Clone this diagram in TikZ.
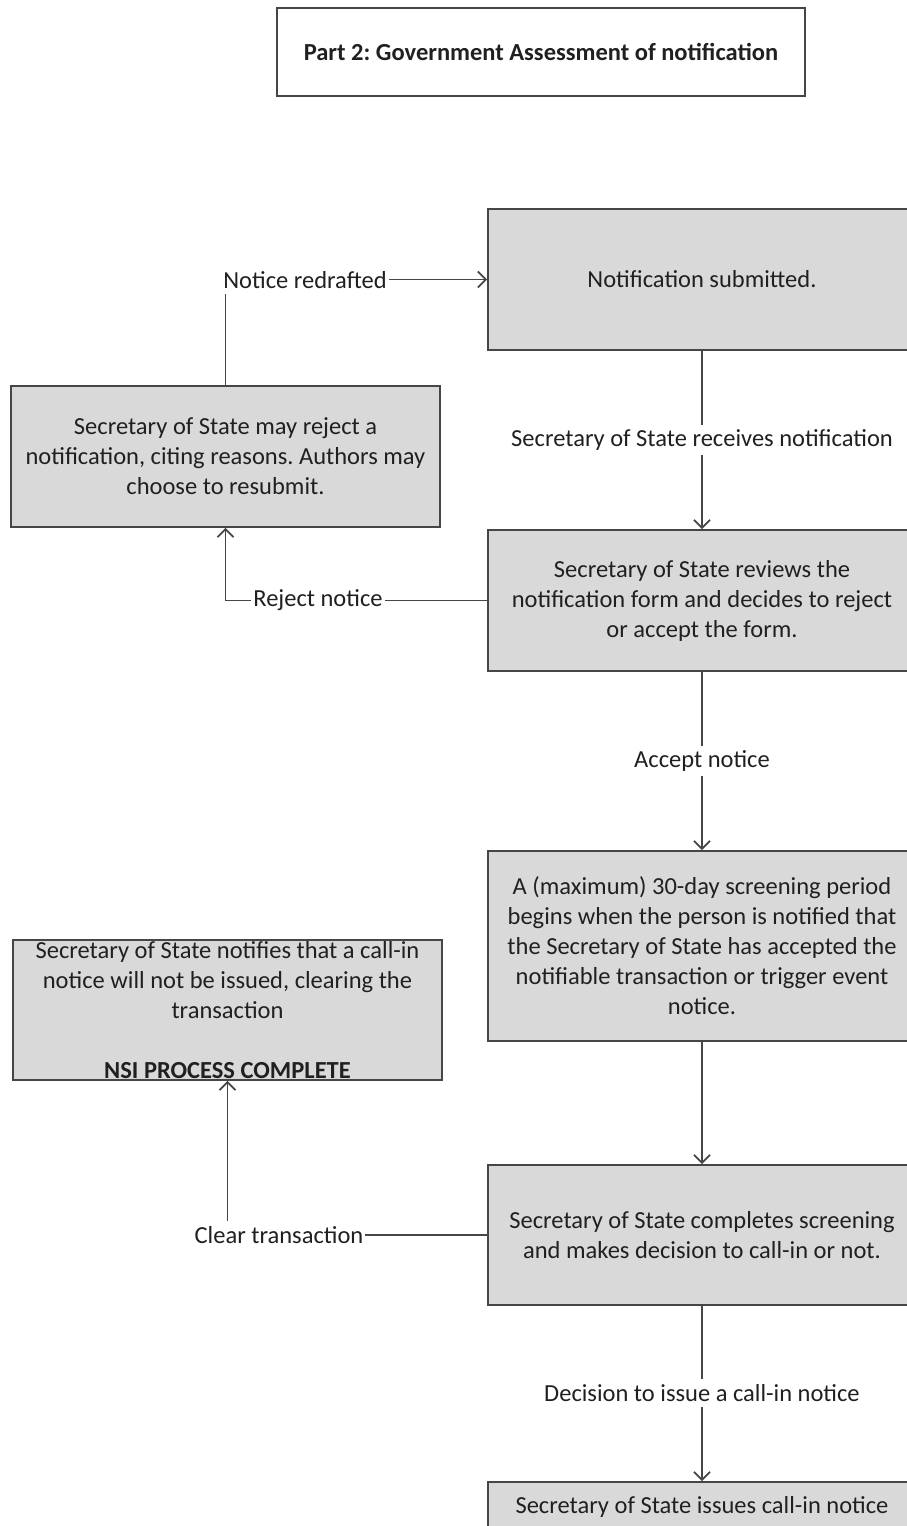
\documentclass[tikz,border=0pt]{standalone}
\usepackage{fontspec}
\setmainfont{Carlito}
\usetikzlibrary{arrows.meta}
\definecolor{boxfill}{HTML}{D9D9D9}
\definecolor{edgecol}{HTML}{464646}
\definecolor{txtcol}{HTML}{202020}
\frenchspacing
\begin{document}
\frenchspacing
\begin{tikzpicture}[x=1pt,y=-1pt,
  box/.style={draw=edgecol, fill=boxfill, line width=1.8pt, minimum width=428pt, minimum height=141pt, inner sep=0pt, text=txtcol, font=\fontsize{24.5}{30}\selectfont, align=center},
  txt/.style={text=txtcol, font=\fontsize{24.5}{30}\selectfont, align=center, inner sep=0pt},
  lbl/.style={txt, fill=white, inner xsep=2pt, inner ysep=5pt},
  conn/.style={draw=edgecol, line width=1.8pt, -{Straight Barb[length=8pt,width=16pt]}}]
\clip (0,0) rectangle (907,1526);
\fill[white] (0,0) rectangle (907,1526);
% title
\node[box, fill=white, minimum width=528pt, minimum height=88pt, font=\fontsize{24.5}{30}\selectfont\bfseries] (title) at (541,52) {Part 2: Government Assessment of notification};
% boxes
\node[box] (A) at (702,279.5) {Notification submitted.};
\node[box, minimum width=429pt] (R) at (225.5,456.5) {Secretary of State may reject a\\notification, citing reasons. Authors may\\choose to resubmit.};
\node[box] (B) at (702,600.5) {Secretary of State reviews the\\notification form and decides to reject\\or accept the form.};
\node[box, minimum height=190pt] (C) at (702,946) {A (maximum) 30-day screening period\\begins when the person is notified that\\the Secretary of State has accepted the\\notifiable transaction or trigger event\\notice.};
\node[box, minimum width=429pt, minimum height=140pt] (N) at (227.5,1010) {};
\node[txt] (Ntext) at (N.center) {Secretary of State notifies that a call-in\\notice will not be issued, clearing the\\transaction\\[30pt]\textbf{NSI PROCESS COMPLETE}};
\node[box, minimum height=140pt] (D) at (702,1235) {Secretary of State completes screening\\and makes decision to call-in or not.};
\node[box] (E) at (702,1552.5) {};
\node[txt, anchor=base] (Etext) at (702,1513) {Secretary of State issues call-in notice};
% connectors
\draw[conn] (A) -- (B);
\draw[conn] (B.west) -| (R.south);
\draw[conn] (R.north) |- (A.west);
\draw[conn] (B) -- (C);
\draw[conn] (C) -- (D);
\draw[conn] (D.west) -| (N.south);
\draw[conn] (D) -- (E);
% labels
\node[lbl] (l1) at (702,440) {Secretary of State receives notification};
\node[lbl] (l2) at (702,761) {Accept notice};
\node[lbl] (l3) at (702,1393) {Decision to issue a call-in notice};
\node[lbl] (l4) at (318,600) {Reject notice};
\node[lbl] (l5) at (305,280) {Notice redrafted};
\node[lbl] (l6) at (279,1235) {Clear transaction};
\end{tikzpicture}
\end{document}
